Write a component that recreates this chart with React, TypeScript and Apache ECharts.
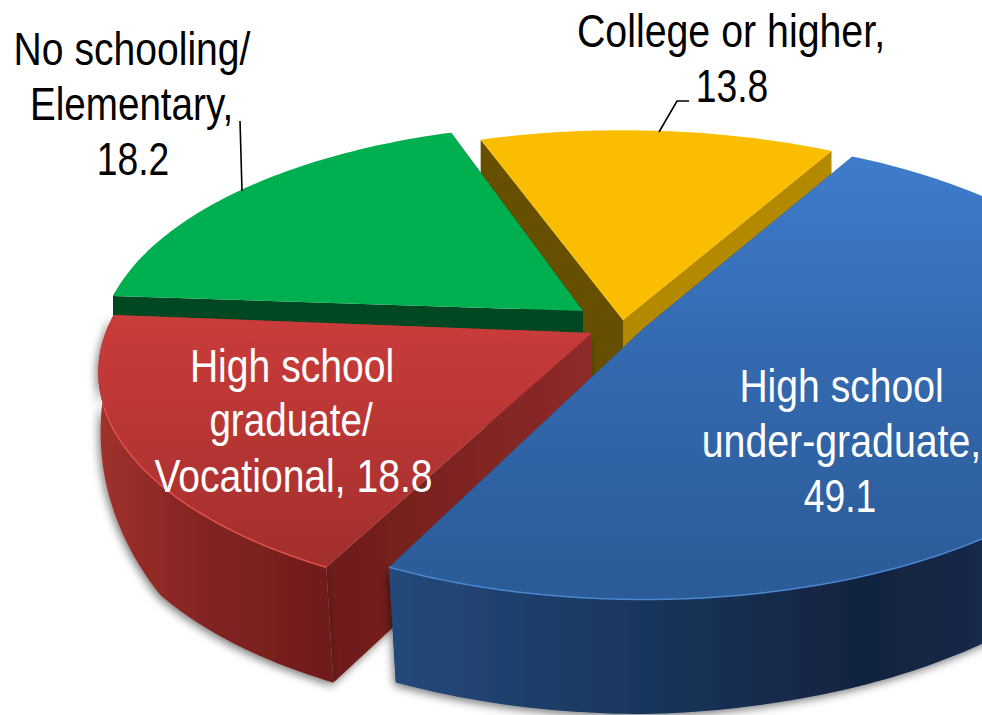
import React, { useEffect, useRef } from "react";
import * as echarts from "echarts";

// clockwise order, starting from the blue slice
const categories = ["High school under-graduate", "High school graduate/Vocational", "No schooling/Elementary", "College or higher"];
const values = [49.1, 18.8, 18.2, 13.8];
const labelLines = [
  ["High school", "under-graduate,", "49.1"],
  ["High school", "graduate/", "Vocational, 18.8"],
  ["No schooling/", "Elementary,", "18.2"],
  ["College or higher,", "13.8"],
];

const START_ANGLE = 29;
const RX = 494;
const RY = 222;
const PERSPECTIVE = 0.17;
const FONT = "'Liberation Sans', Arial, sans-serif";

const grad = (x0: number, y0: number, x1: number, y1: number, stops: [number, string][]) =>
  new echarts.graphic.LinearGradient(x0, y0, x1, y1, stops.map(([offset, color]) => ({ offset, color })), true);

const sliceLook = [
  {
    cx: 644, cy: 328, sx: 1, sy: 1.015, fromAdj: 0, toAdj: 0,
    top: grad(0, 160, 0, 600, [[0, "#3E7CCB"], [0.45, "#3469AF"], [1, "#2B5B97"]]),
    outer: grad(388, 0, 982, 0, [[0, "#24497A"], [0.4, "#1A375F"], [0.8, "#11233E"], [1, "#15294A"]]),
    startWall: "#1d3c66", endWall: "#1d3c66", rim: "#4A87D0", outerShadow: true, wallShadow: false,
  },
  {
    cx: 592, cy: 333, sx: 0.985, sy: 1.012, fromAdj: 1.7, toAdj: 1,
    top: grad(0, 315, 0, 570, [[0, "#CA3C3A"], [1, "#A22F2D"]]),
    outer: grad(98, 0, 335, 0, [[0, "#A0312D"], [0.45, "#832422"], [1, "#6E1C1A"]]),
    startWall: grad(335, 0, 592, 0, [[0, "#6E1C1A"], [0.4, "#7C2320"], [1, "#8E2A2A"]]),
    endWall: "#8E2A2A", rim: "#E2504A", outerShadow: true, wallShadow: true,
  },
  {
    cx: 583, cy: 311, sx: 0.965, sy: 0.985, fromAdj: 0.3, toAdj: 2,
    top: "#00AF50", outer: "#004821", startWall: "#004821", endWall: "#004821", rim: null, outerShadow: false, wallShadow: false,
  },
  {
    cx: 623, cy: 320, sx: 1, sy: 1, fromAdj: 1.2, toAdj: 0,
    top: "#FABD00", outer: "#B38900", startWall: "#665000", endWall: "#B38900", rim: null, outerShadow: false, wallShadow: false,
  },
];
const drawOrder = [3, 2, 1, 0];

const labelLayout = [
  [
    { x: 841.5, base: 402, sx: 0.85 },
    { x: 841.5, base: 457, sx: 0.854 },
    { x: 840, base: 512, sx: 0.81 },
  ],
  [
    { x: 292, base: 382, sx: 0.85 },
    { x: 291, base: 436, sx: 0.84 },
    { x: 293.5, base: 492, sx: 0.85 },
  ],
  [
    { x: 132, base: 65, sx: 0.85 },
    { x: 131.5, base: 120, sx: 0.84 },
    { x: 133, base: 175, sx: 0.81 },
  ],
  [
    { x: 731, base: 47, sx: 0.855 },
    { x: 732, base: 102, sx: 0.81 },
  ],
];
const leaders = [
  [[240, 121], [242, 191]],
  [[659, 132], [677, 101], [689, 101]],
];

const total = values.reduce((a, b) => a + b, 0);
const startAngles = values.map((_, i) =>
  START_ANGLE + (values.slice(0, i).reduce((a, b) => a + b, 0) / total) * 360
);

function project(look: any, deg: number) {
  const t = (deg * Math.PI) / 180;
  const X = Math.sin(t);
  const Y = -Math.cos(t);
  const w = 1 - PERSPECTIVE * Y;
  const dx = (RX * look.sx * X) / w;
  const dy = (RY * look.sy * Y) / w;
  const front = Math.max(Y, 0);
  const depth = 50 + 70 * Math.min(front / 0.58, 1) - 12 * Math.max(X, 0);
  return {
    facing: Y > -0.1,
    top: [look.cx + dx, look.cy + dy],
    bottom: [look.cx + dx * (1 - 0.03 * front), look.cy + dy * 0.98 + depth],
  };
}

const SHADOW = { shadowBlur: 8, shadowColor: "rgba(0,0,0,0.5)", shadowOffsetX: -2, shadowOffsetY: 3 };

function renderSlice(_params: any, api: any) {
  const index = api.value(0);
  const look: any = sliceLook[index];
  const from = startAngles[index] + look.fromAdj;
  const sweep = (values[index] / total) * 360 + look.toAdj - look.fromAdj;
  const tops: number[][] = [];
  const bottoms: number[][] = [];
  const wallTop: number[][] = [];
  const wallBottom: number[][] = [];
  const steps = Math.ceil(sweep);
  for (let i = 0; i <= steps; i++) {
    const p = project(look, from + (sweep * i) / steps);
    tops.push(p.top);
    bottoms.push(p.bottom);
    if (p.facing) {
      wallTop.push(p.top);
      wallBottom.push(p.bottom);
    }
  }
  const apex = [look.cx, look.cy];
  const apexBottom = [look.cx, look.cy + 110];
  const last = tops.length - 1;
  const children: any[] = [
    {
      type: "polygon",
      shape: { points: [apex, tops[last], bottoms[last], apexBottom] },
      style: { fill: look.endWall },
    },
    {
      type: "polygon",
      shape: { points: [apex, tops[0], bottoms[0], apexBottom] },
      style: look.wallShadow ? { fill: look.startWall, ...SHADOW } : { fill: look.startWall },
    },
  ];
  if (wallTop.length > 1) {
    children.push({
      type: "polygon",
      shape: { points: [...wallTop, ...wallBottom.slice().reverse()] },
      style: look.outerShadow ? { fill: look.outer, ...SHADOW } : { fill: look.outer },
    });
  }
  children.push({
    type: "polygon",
    shape: { points: [apex, ...tops] },
    style: { fill: look.top },
  });
  if (look.rim) {
    const front = tops.filter((_, i) => {
      const deg = from + (sweep * i) / steps;
      return -Math.cos((deg * Math.PI) / 180) > 0.3;
    });
    children.push({
      type: "polyline",
      shape: { points: front },
      style: { fill: null, stroke: look.rim, lineWidth: 1.5 },
    });
  }
  return { type: "group", children };
}

function buildGraphic() {
  const texts: any[] = [];
  labelLines.forEach((lines, i) => {
    lines.forEach((text, j) => {
      const pos = labelLayout[i][j];
      texts.push({
        type: "text",
        x: pos.x,
        y: pos.base,
        scaleX: pos.sx,
        silent: true,
        style: {
          text,
          fill: i === 0 || i === 1 ? "#ffffff" : "#000000",
          font: `46px ${FONT}`,
          textAlign: "center",
          textVerticalAlign: "bottom",
          y: 7,
        },
      });
    });
  });
  const lines = leaders.map((points) => ({
    type: "polyline",
    silent: true,
    shape: { points },
    style: { fill: null, stroke: "#000000", lineWidth: 1.6 },
    z: 10,
  }));
  return [...lines, ...texts.map((t) => ({ ...t, z: 20 }))];
}

export default function App() {
  const ref = useRef<HTMLDivElement>(null);
  useEffect(() => {
    const chart = echarts.init(ref.current!, null, { renderer: "svg" });
    chart.setOption({
      animation: false,
      backgroundColor: "#ffffff",
      series: [
        {
          type: "custom",
          name: "Education",
          coordinateSystem: "none",
          silent: true,
          renderItem: renderSlice,
          encode: { value: 1 },
          data: drawOrder.map((i) => ({ name: categories[i], value: [i, values[i]] })),
          z: 1,
        },
      ],
      graphic: buildGraphic(),
    });
    return () => chart.dispose();
  }, []);
  return <div ref={ref} style={{ position: "fixed", left: 0, top: 0, width: 982, height: 715 }} />;
}
